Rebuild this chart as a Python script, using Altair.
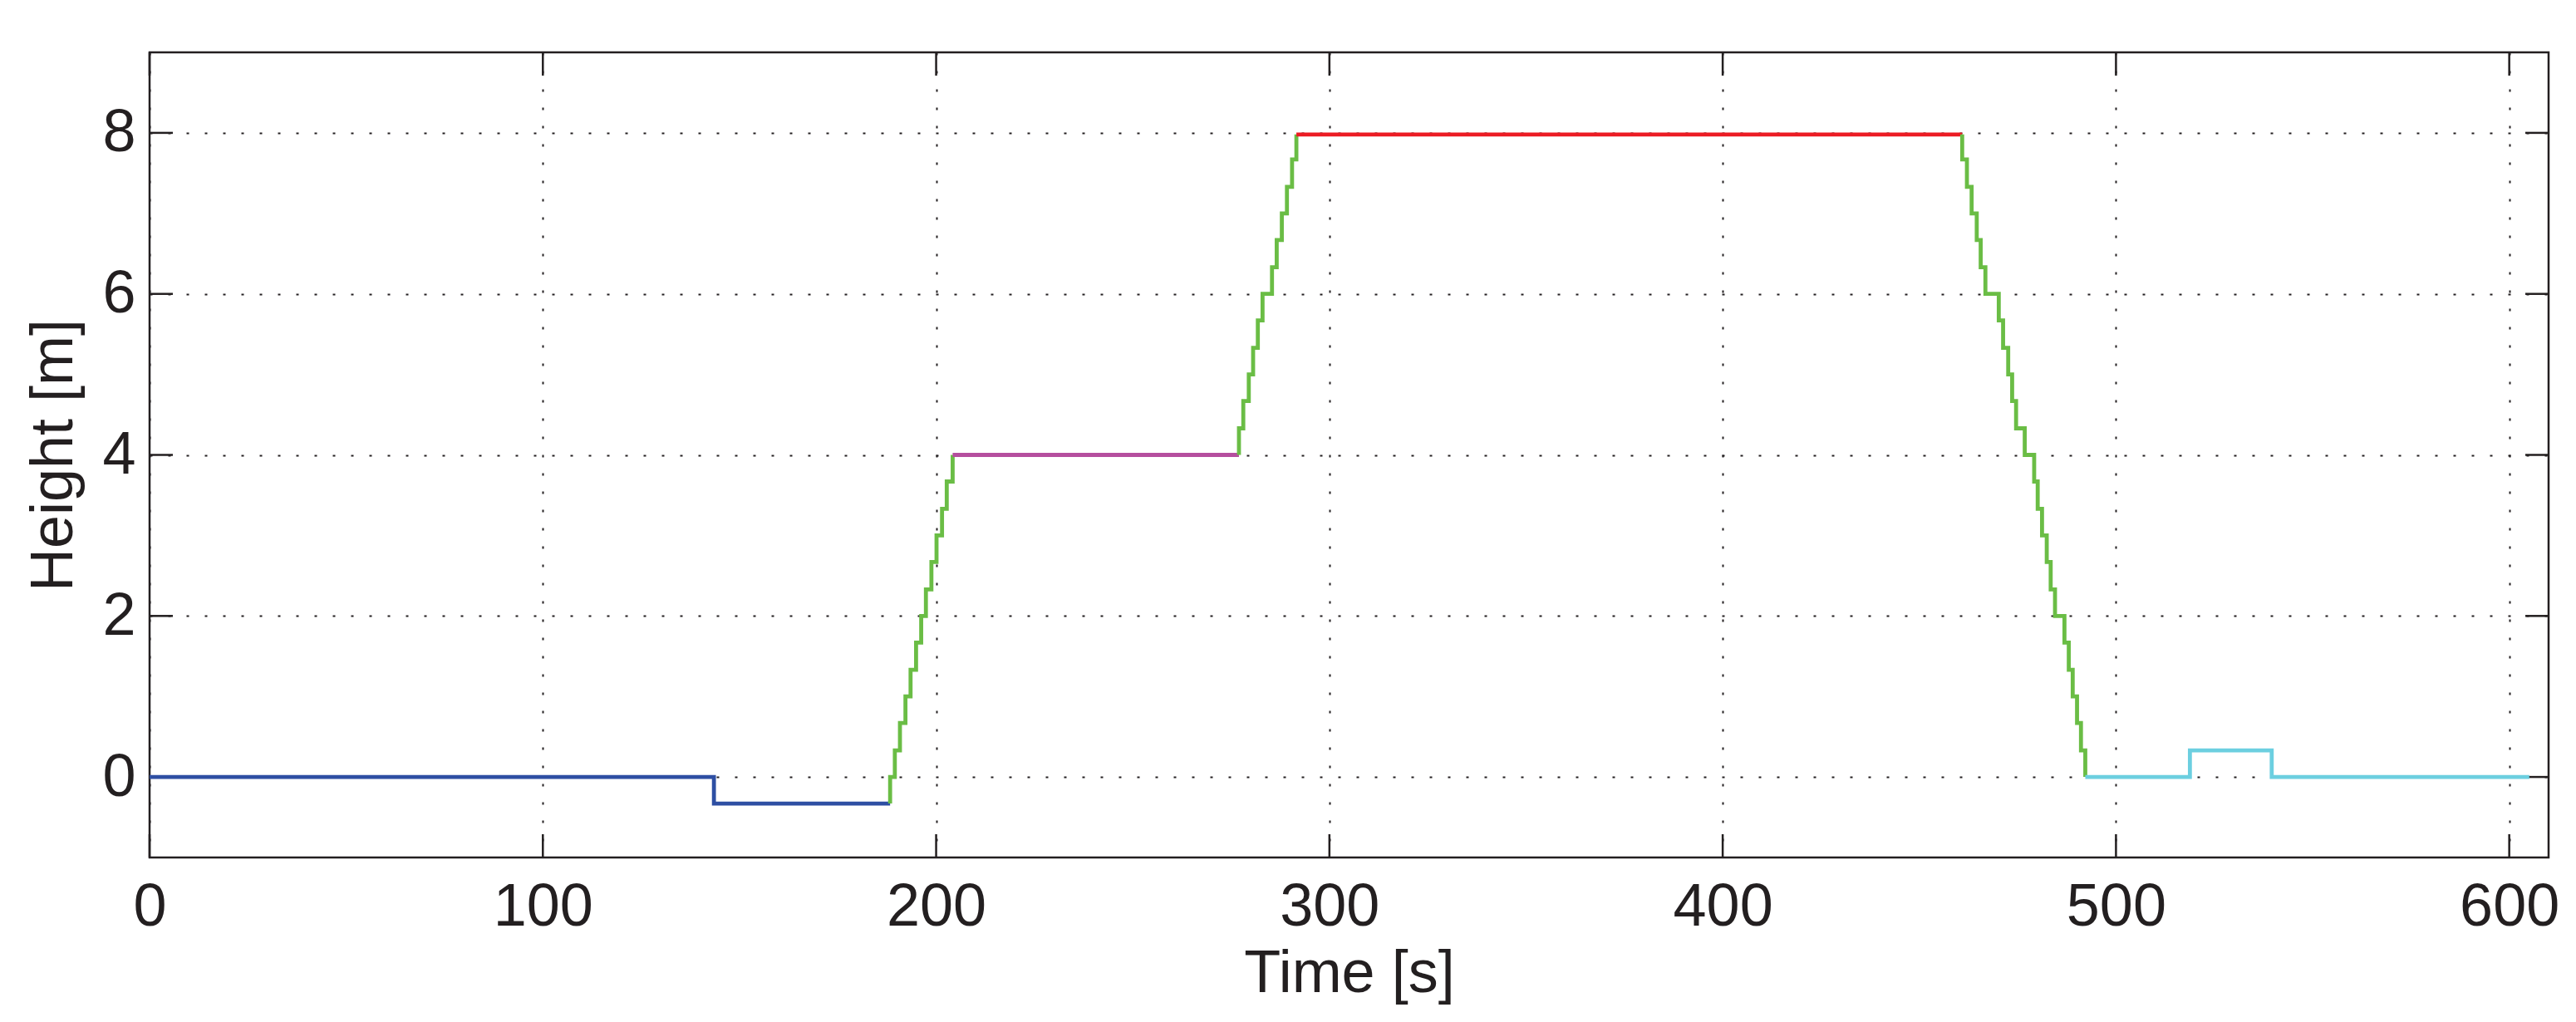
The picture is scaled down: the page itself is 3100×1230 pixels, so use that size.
import altair as alt
import pandas as pd

FONT = "Liberation Sans"
INK = "#231f20"

# axis ticks
x_ticks = [0, 100, 200, 300, 400, 500, 600]
y_ticks = [0, 2, 4, 6, 8]

# blue: start at 0 m, small dip
blue_rise_t = [143.5]
blue_rise_h = [-0.33]

# green ascent 1
up1_rise_t = [188.3, 189.5, 190.8, 192.2, 193.5, 194.9, 196.2, 197.4, 198.8, 200.1, 201.5, 202.7, 204.2]
up1_rise_h = [0.0, 0.33, 0.67, 1.0, 1.33, 1.67, 2.0, 2.33, 2.67, 3.0, 3.33, 3.67, 4.0]

# green ascent 2
up2_rise_t = [277.0, 278.1, 279.5, 280.6, 281.8, 283.0, 285.4, 286.6, 287.9, 289.2, 290.5, 291.6]
up2_rise_h = [4.33, 4.67, 5.0, 5.33, 5.67, 6.0, 6.33, 6.67, 7.0, 7.33, 7.67, 7.98]

# green descent
down_rise_t = [460.9, 462.1, 463.3, 464.6, 465.6, 466.8, 470.2, 471.3, 472.6, 473.6, 474.6, 476.8,
               479.2, 480.1, 481.2, 482.4, 483.4, 484.5, 486.9, 488.0, 489.0, 490.1, 491.1, 492.2]
down_rise_h = [7.67, 7.33, 7.0, 6.67, 6.33, 6.0, 5.67, 5.33, 5.0, 4.67, 4.33, 4.0,
               3.67, 3.33, 3.0, 2.67, 2.33, 2.0, 1.67, 1.33, 1.0, 0.67, 0.33, 0.0]

# cyan: small bump
cyan_rise_t = [518.8, 539.6]
cyan_rise_h = [0.33, 0.0]

# segments: name, start time, start height, riser times, riser heights, end time
segments = [
    ("blue", 0.0, 0.0, blue_rise_t, blue_rise_h, 188.3),
    ("green1", 188.3, -0.33, up1_rise_t, up1_rise_h, 204.2),
    ("magenta", 204.2, 4.0, [], [], 277.0),
    ("green2", 277.0, 4.0, up2_rise_t, up2_rise_h, 291.6),
    ("red", 291.6, 7.98, [], [], 460.9),
    ("green3", 460.9, 7.98, down_rise_t, down_rise_h, 492.2),
    ("cyan", 492.2, 0.0, cyan_rise_t, cyan_rise_h, 605.1),
]
seg_names = [s[0] for s in segments]
seg_colors = ["#2e4fa3", "#6abd45", "#b54e9e", "#6abd45", "#ec1c24", "#6abd45", "#6ccfe0"]

rows = []
for name, t0, h0, rts, rhs, t_end in segments:
    pts = [(t0, h0)]
    h = h0
    for t, nh in zip(rts, rhs):
        pts.append((t, h))
        pts.append((t, nh))
        h = nh
    pts.append((t_end, h))
    for i, (t, hh) in enumerate(pts):
        rows.append({"seg": name, "i": i, "t": t, "h": hh})
df = pd.DataFrame(rows)

W, H = 2887, 969
TICK = 28

xs = alt.Scale(domain=[0, 610], nice=False, zero=False)
ys = alt.Scale(domain=[-1, 9], nice=False, zero=False)

common = dict(grid=True, gridDash=[3, 19], gridColor=INK, gridWidth=2, gridOpacity=1,
              domain=False, ticks=False, tickSize=0,
              labelFont=FONT, labelFontSize=72, labelColor=INK, labelOverlap=False, labelFlush=False,
              titleFont=FONT, titleFontSize=72, titleFontWeight="normal", titleColor=INK,
              format="d")

xax = alt.Axis(values=x_ticks, title="Time [s]", labelPadding=81, labelBaseline="alphabetic",
               titleBaseline="alphabetic", titleY=161, **common)
yax = alt.Axis(values=y_ticks, title="Height [m]", labelPadding=17, labelAlign="right",
               labelBaseline="middle", titleAngle=270, titleBaseline="alphabetic",
               titleX=-94, titleY=H / 2, **common)

lines = alt.Chart(df).mark_line(strokeWidth=4.8, strokeJoin="miter", strokeCap="butt").encode(
    x=alt.X("t:Q", scale=xs, axis=xax),
    y=alt.Y("h:Q", scale=ys, axis=yax),
    color=alt.Color("seg:N", scale=alt.Scale(domain=seg_names, range=seg_colors), legend=None),
    detail="seg:N",
    order="i:Q",
)

xt = pd.DataFrame({"t": x_ticks})
yt = pd.DataFrame({"h": y_ticks})

tick_bottom = alt.Chart(xt).mark_rule(color=INK, strokeWidth=2.5).encode(
    x=alt.X("t:Q", scale=xs, axis=xax), y=alt.value(H), y2=alt.value(H - TICK))
tick_top = alt.Chart(xt).mark_rule(color=INK, strokeWidth=2.5).encode(
    x=alt.X("t:Q", scale=xs, axis=xax), y=alt.value(0), y2=alt.value(TICK))
tick_left = alt.Chart(yt).mark_rule(color=INK, strokeWidth=2.5).encode(
    y=alt.Y("h:Q", scale=ys, axis=yax), x=alt.value(0), x2=alt.value(TICK))
tick_right = alt.Chart(yt).mark_rule(color=INK, strokeWidth=2.5).encode(
    y=alt.Y("h:Q", scale=ys, axis=yax), x=alt.value(W - TICK), x2=alt.value(W))

chart = alt.layer(tick_bottom, tick_top, tick_left, tick_right, lines).properties(
    width=W, height=H,
    autosize=alt.AutoSizeParams(type="none"),
    padding={"left": 172, "top": 55, "right": 25, "bottom": 180},
    background="white",
).configure_view(stroke=INK, strokeWidth=2.5)

chart.save("out.html", embed_options={"renderer": "svg", "actions": False})
